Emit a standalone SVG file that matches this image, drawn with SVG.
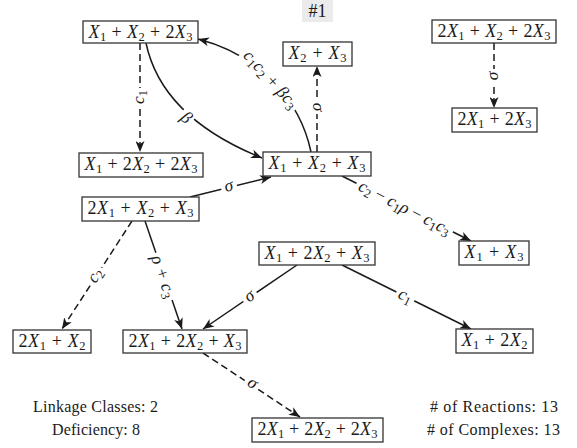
<svg xmlns="http://www.w3.org/2000/svg" width="577" height="448" viewBox="0 0 577 448">
<style>
.n rect{fill:#fff;stroke:#333;stroke-width:1.3}
text{font-family:"Liberation Serif","Times New Roman",serif;fill:#1a1a1a}
.t{font-size:18px;text-anchor:middle}
.f{font-size:16px;text-anchor:middle}
.l{font-size:17.5px;text-anchor:middle}
.i{font-style:italic}
.s{font-size:12.5px}
.e{fill:none;stroke:#1a1a1a;stroke-width:1.5;marker-end:url(#ah)}
.d{stroke-dasharray:7 4}
.bg{fill:#fff}
</style>
<defs>
<marker id="ah" viewBox="0 0 11 9" refX="11" refY="4.5" markerWidth="11" markerHeight="9" markerUnits="userSpaceOnUse" orient="auto">
<path d="M0,0 L11,4.5 L0,9 L3,4.5 z" fill="#1a1a1a"/>
</marker>
</defs>
<rect x="302" y="0" width="31" height="22" fill="#ebebeb"/>
<text class="t" x="317.5" y="17">#1</text>
<g id="connectors">
<path class="e d" d="M140,43 V152"/>
<path class="e" d="M146,43 C158,100 205,135 262,158"/>
<path class="e" d="M311,152 C300,100 260,55 198,39"/>
<path class="e d" d="M317,152 V66"/>
<path class="e d" d="M494,43 V108"/>
<path class="e" d="M190,197 L271,177"/>
<path class="e" d="M342,176 L471,241"/>
<path class="e d" d="M132,221 L62,329"/>
<path class="e" d="M145,221 L182,329"/>
<path class="e" d="M297,265 L203,329"/>
<path class="e" d="M342,265 L471,329"/>
<path class="e d" d="M203,353 L300,417"/>
<g transform="translate(140,97) rotate(-90)"><rect class="bg" x="-9" y="-8" width="18" height="16"/><text class="l" y="4"><tspan class="i">c</tspan><tspan class="s" dy="3">1</tspan></text></g>
<g transform="translate(186,118) rotate(40)"><rect class="bg" x="-7" y="-10" width="14" height="20"/><text class="l" y="5"><tspan class="i">β</tspan></text></g>
<g transform="translate(270,80) rotate(48)"><rect class="bg" x="-39" y="-10" width="78" height="20"/><text class="l" y="4.5" textLength="72" lengthAdjust="spacing"><tspan class="i">c</tspan><tspan class="s" dy="3">1</tspan><tspan class="i" dy="-3">c</tspan><tspan class="s" dy="3">2</tspan><tspan dy="-3"> + </tspan><tspan class="i">βc</tspan><tspan class="s" dy="3">3</tspan></text></g>
<g transform="translate(317,107) rotate(90)"><rect class="bg" x="-7" y="-8" width="14" height="16"/><text class="l" y="4"><tspan class="i">σ</tspan></text></g>
<g transform="translate(494,76) rotate(-90)"><rect class="bg" x="-7" y="-8" width="14" height="16"/><text class="l" y="4"><tspan class="i">σ</tspan></text></g>
<g transform="translate(229,187) rotate(-14)"><rect class="bg" x="-8" y="-8" width="16" height="16"/><text class="l" y="4"><tspan class="i">σ</tspan></text></g>
<g transform="translate(404,209) rotate(27)"><rect class="bg" x="-54" y="-9" width="108" height="18"/><text class="l" y="4" textLength="101" lengthAdjust="spacing"><tspan class="i">c</tspan><tspan class="s" dy="3">2</tspan><tspan dy="-3"> − </tspan><tspan class="i">c</tspan><tspan class="s" dy="3">1</tspan><tspan class="i" dy="-3">ρ</tspan><tspan> − </tspan><tspan class="i">c</tspan><tspan class="s" dy="3">1</tspan><tspan class="i" dy="-3">c</tspan><tspan class="s" dy="3">3</tspan></text></g>
<g transform="translate(96,276) rotate(-57)"><rect class="bg" x="-10" y="-8" width="20" height="16"/><text class="l" y="4"><tspan class="i">c</tspan><tspan class="s" dy="3">2</tspan></text></g>
<g transform="translate(162,277) rotate(71)"><rect class="bg" x="-25" y="-9" width="50" height="18"/><text class="l" y="4" textLength="44" lengthAdjust="spacing"><tspan class="i">ρ</tspan><tspan> + </tspan><tspan class="i">c</tspan><tspan class="s" dy="3">3</tspan></text></g>
<g transform="translate(250,297) rotate(-34)"><rect class="bg" x="-8" y="-8" width="16" height="16"/><text class="l" y="4"><tspan class="i">σ</tspan></text></g>
<g transform="translate(405,297) rotate(26.4)"><rect class="bg" x="-10" y="-8" width="20" height="16"/><text class="l" y="4"><tspan class="i">c</tspan><tspan class="s" dy="3">1</tspan></text></g>
<g transform="translate(252,384) rotate(33)"><rect class="bg" x="-8" y="-8" width="16" height="16"/><text class="l" y="4"><tspan class="i">σ</tspan></text></g>
</g>
<g id="n1" class="n"><rect x="83" y="21" width="115" height="22"/><text class="t" x="140.5" y="37.5" textLength="104" lengthAdjust="spacing"><tspan class="i">X</tspan><tspan class="s" dy="3">1</tspan><tspan dy="-3"> + </tspan><tspan class="i">X</tspan><tspan class="s" dy="3">2</tspan><tspan dy="-3"> + 2</tspan><tspan class="i">X</tspan><tspan class="s" dy="3">3</tspan></text></g>
<g id="n2" class="n"><rect x="283" y="42" width="69" height="24"/><text class="t" x="317.5" y="59" textLength="58" lengthAdjust="spacing"><tspan class="i">X</tspan><tspan class="s" dy="3">2</tspan><tspan dy="-3"> + </tspan><tspan class="i">X</tspan><tspan class="s" dy="3">3</tspan></text></g>
<g id="n3" class="n"><rect x="432" y="20" width="124" height="23"/><text class="t" x="494" y="36.5" textLength="113" lengthAdjust="spacing"><tspan>2</tspan><tspan class="i">X</tspan><tspan class="s" dy="3">1</tspan><tspan dy="-3"> + </tspan><tspan class="i">X</tspan><tspan class="s" dy="3">2</tspan><tspan dy="-3"> + 2</tspan><tspan class="i">X</tspan><tspan class="s" dy="3">3</tspan></text></g>
<g id="n4" class="n"><rect x="452" y="108" width="85" height="24"/><text class="t" x="494.5" y="125" textLength="74" lengthAdjust="spacing"><tspan>2</tspan><tspan class="i">X</tspan><tspan class="s" dy="3">1</tspan><tspan dy="-3"> + 2</tspan><tspan class="i">X</tspan><tspan class="s" dy="3">3</tspan></text></g>
<g id="n5" class="n"><rect x="79" y="153" width="124" height="24"/><text class="t" x="141" y="170" textLength="113" lengthAdjust="spacing"><tspan class="i">X</tspan><tspan class="s" dy="3">1</tspan><tspan dy="-3"> + 2</tspan><tspan class="i">X</tspan><tspan class="s" dy="3">2</tspan><tspan dy="-3"> + 2</tspan><tspan class="i">X</tspan><tspan class="s" dy="3">3</tspan></text></g>
<g id="n6" class="n"><rect x="263" y="152" width="108" height="24"/><text class="t" x="317" y="169" textLength="97" lengthAdjust="spacing"><tspan class="i">X</tspan><tspan class="s" dy="3">1</tspan><tspan dy="-3"> + </tspan><tspan class="i">X</tspan><tspan class="s" dy="3">2</tspan><tspan dy="-3"> + </tspan><tspan class="i">X</tspan><tspan class="s" dy="3">3</tspan></text></g>
<g id="n7" class="n"><rect x="82" y="197" width="117" height="24"/><text class="t" x="140.5" y="214" textLength="106" lengthAdjust="spacing"><tspan>2</tspan><tspan class="i">X</tspan><tspan class="s" dy="3">1</tspan><tspan dy="-3"> + </tspan><tspan class="i">X</tspan><tspan class="s" dy="3">2</tspan><tspan dy="-3"> + </tspan><tspan class="i">X</tspan><tspan class="s" dy="3">3</tspan></text></g>
<g id="n8" class="n"><rect x="259" y="242" width="116" height="23"/><text class="t" x="317" y="258.5" textLength="105" lengthAdjust="spacing"><tspan class="i">X</tspan><tspan class="s" dy="3">1</tspan><tspan dy="-3"> + 2</tspan><tspan class="i">X</tspan><tspan class="s" dy="3">2</tspan><tspan dy="-3"> + </tspan><tspan class="i">X</tspan><tspan class="s" dy="3">3</tspan></text></g>
<g id="n9" class="n"><rect x="459" y="241" width="70" height="24"/><text class="t" x="494" y="258" textLength="59" lengthAdjust="spacing"><tspan class="i">X</tspan><tspan class="s" dy="3">1</tspan><tspan dy="-3"> + </tspan><tspan class="i">X</tspan><tspan class="s" dy="3">3</tspan></text></g>
<g id="n10" class="n"><rect x="13" y="330" width="78" height="23"/><text class="t" x="52" y="346.5" textLength="67" lengthAdjust="spacing"><tspan>2</tspan><tspan class="i">X</tspan><tspan class="s" dy="3">1</tspan><tspan dy="-3"> + </tspan><tspan class="i">X</tspan><tspan class="s" dy="3">2</tspan></text></g>
<g id="n11" class="n"><rect x="123" y="330" width="124" height="23"/><text class="t" x="185" y="346.5" textLength="113" lengthAdjust="spacing"><tspan>2</tspan><tspan class="i">X</tspan><tspan class="s" dy="3">1</tspan><tspan dy="-3"> + 2</tspan><tspan class="i">X</tspan><tspan class="s" dy="3">2</tspan><tspan dy="-3"> + </tspan><tspan class="i">X</tspan><tspan class="s" dy="3">3</tspan></text></g>
<g id="n12" class="n"><rect x="456" y="329" width="77" height="24"/><text class="t" x="494.5" y="346" textLength="66" lengthAdjust="spacing"><tspan class="i">X</tspan><tspan class="s" dy="3">1</tspan><tspan dy="-3"> + 2</tspan><tspan class="i">X</tspan><tspan class="s" dy="3">2</tspan></text></g>
<g id="n13" class="n"><rect x="252" y="418" width="131" height="24"/><text class="t" x="317.5" y="435" textLength="120" lengthAdjust="spacing"><tspan>2</tspan><tspan class="i">X</tspan><tspan class="s" dy="3">1</tspan><tspan dy="-3"> + 2</tspan><tspan class="i">X</tspan><tspan class="s" dy="3">2</tspan><tspan dy="-3"> + 2</tspan><tspan class="i">X</tspan><tspan class="s" dy="3">3</tspan></text></g>
<g id="info">
<text class="f" x="95.5" y="412" textLength="125" lengthAdjust="spacing">Linkage Classes: 2</text>
<text class="f" x="96" y="435" textLength="88" lengthAdjust="spacing">Deficiency: 8</text>
<text class="f" x="494" y="412" textLength="128" lengthAdjust="spacing"># of Reactions: 13</text>
<text class="f" x="493.5" y="435" textLength="133" lengthAdjust="spacing"># of Complexes: 13</text>
</g>
</svg>
